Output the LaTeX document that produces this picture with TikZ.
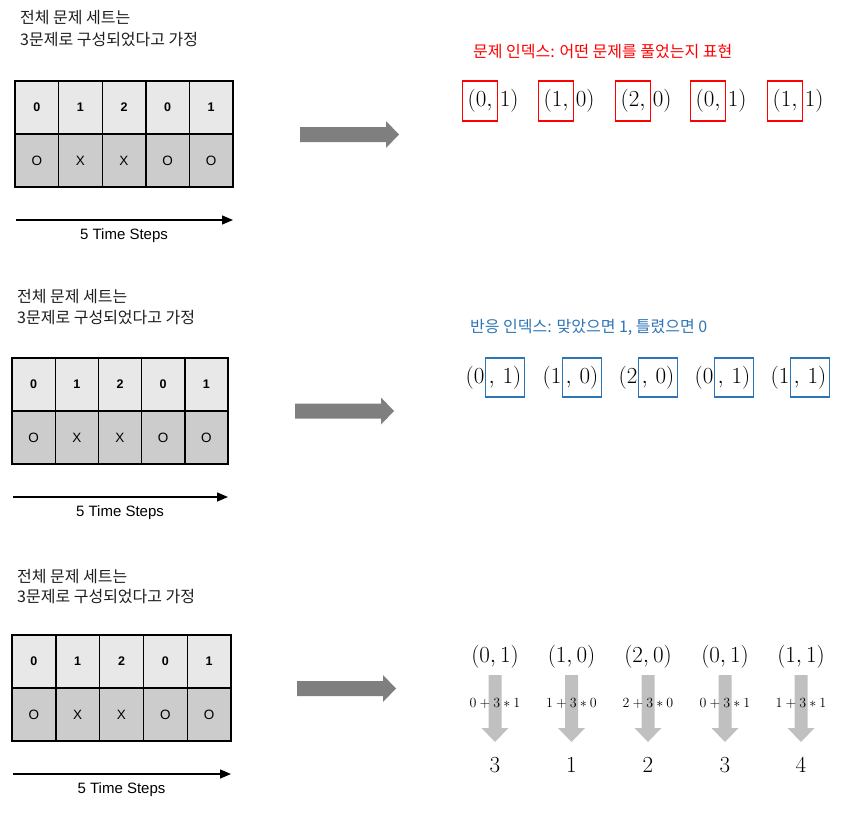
\documentclass[tikz,border=0pt]{standalone}
\usepackage{fix-cm}
\usepackage[no-math]{fontspec}
\setmainfont{Liberation Sans}
\newfontfamily\kr{Noto Sans CJK KR}
\usetikzlibrary{arrows.meta,positioning}
\definecolor{topfill}{RGB}{232,232,232}
\definecolor{botfill}{RGB}{204,204,204}
\definecolor{bigarrowc}{RGB}{127,127,127}
\definecolor{downarrowc}{RGB}{192,192,192}
\definecolor{redc}{RGB}{255,0,0}
\definecolor{bluec}{RGB}{46,117,182}
\definecolor{titlec}{RGB}{30,30,30}
\tikzset{
 cell/.style={draw=black, line width=1.4pt, minimum height=53pt, inner sep=0pt, outer sep=0pt, anchor=north west},
 topcell/.style={cell, fill=topfill, font=\fontsize{12.5}{14}\selectfont\bfseries},
 botcell/.style={cell, fill=botfill, font=\fontsize{13.5}{15}\selectfont},
 titletext/.style={anchor=west, inner sep=0pt, text=titlec, font=\kr\fontsize{16}{18}\selectfont},
 timeline/.style={line width=1.4pt, -{Triangle[length=11pt,width=9pt]}},
 stepstext/.style={inner sep=0pt, font=\fontsize{15}{17}\selectfont},
 tuple/.style={inner sep=0pt, font=\fontsize{23}{25}\selectfont},
 redbox/.style={draw=redc, line width=1.3pt, minimum height=40pt, inner xsep=5pt, inner ysep=0pt, anchor=west, font=\fontsize{23}{25}\selectfont},
 bluebox/.style={draw=bluec, line width=1.3pt, minimum height=39pt, inner xsep=3pt, inner ysep=0pt, anchor=west, font=\fontsize{23}{25}\selectfont},
 formula/.style={inner sep=0pt, font=\fontsize{14}{16}\selectfont},
 result/.style={inner sep=0pt, font=\fontsize{23}{25}\selectfont},
 bigarr/.pic={\fill[bigarrowc] (0,-7.5) -- (86,-7.5) -- (86,-13.5) -- (99,0) -- (86,13.5) -- (86,7.5) -- (0,7.5) -- cycle;},
 downarr/.pic={\fill[downarrowc] (-6.5,0) -- (6.5,0) -- (6.5,53) -- (13.5,53) -- (0,67) -- (-13.5,53) -- (-6.5,53) -- cycle;}
}
\begin{document}
\begin{tikzpicture}[x=1pt,y=-1pt]
\useasboundingbox (0,0) rectangle (862,825);
% ---------- left panels ----------
\foreach \p/\L/\T/\w/\tx/\ta/\tb in {a/15/81/43.6/20/18/40, b/12/358/43.2/17/297/318, c/12/635/43.8/17/576/597}{
  \node[titletext] (\p-title1) at (\tx,\ta) {전체 문제 세트는};
  \node[titletext] (\p-title2) at (\tx,\tb) {3문제로 구성되었다고 가정};
  \foreach \v/\s [count=\i from 0] in {0/O,1/X,2/X,0/O,1/O}{
    \node[topcell, minimum width=\w pt] (\p-t-\i) at ({\L+\i*\w},\T) {\v};
    \node[botcell, minimum width=\w pt] (\p-b-\i) at ({\L+\i*\w},\T+53) {\s};
  }
  \coordinate (\p-ls) at (\L+1,\T+139);
  \coordinate (\p-le) at ({\L+5*\w},\T+139);
  \draw[timeline] (\p-ls) -- (\p-le);
  \node[stepstext] (\p-steps) at ({\L+2.5*\w},\T+155) {5 Time Steps};
}
% ---------- big arrows ----------
\pic at (300,134.5) {bigarr};
\pic at (295,411) {bigarr};
\pic at (297,688.5) {bigarr};
% ---------- right panel 1 ----------
\node[titletext, text=redc] (redlabel) at (473,52) {문제 인덱스: 어떤 문제를 풀었는지 표현};
\foreach \a/\b/\x [count=\i] in {0/1/462, 1/0/538, 2/0/615, 0/1/690, 1/1/767}{
  \node[redbox] (rb\i) at (\x,101) {$(\a,$};
  \node[tuple, anchor=west] (rt\i) at ([xshift=1.5pt]rb\i.east) {$\b)$};
}
% ---------- right panel 2 ----------
\node[titletext, text=bluec] (bluelabel) at (470,327) {반응 인덱스: 맞았으면 1, 틀렸으면 0};
\foreach \a/\b/\x [count=\i] in {0/1/485, 1/0/562, 2/0/638, 0/1/714, 1/1/790}{
  \node[bluebox] (bb\i) at (\x,377.5) {$,\,\b)$};
  \node[tuple, anchor=east] (bt\i) at ([xshift=-0.5pt]bb\i.west) {$(\a$};
}
% ---------- right panel 3 ----------
\foreach \a/\b/\c/\r [count=\i] in {0/1/495/3, 1/0/571.5/1, 2/0/648/2, 0/1/725/3, 1/1/801/4}{
  \node[tuple] (ct\i) at (\c,657) {$(\a,\b)$};
  \pic at (\c,675) {downarr};
  \node[formula] (cf\i) at (\c,704) {$\a+3\ast\b$};
  \node[result] (cr\i) at (\c,765) {$\r$};
}
\end{tikzpicture}
\end{document}
